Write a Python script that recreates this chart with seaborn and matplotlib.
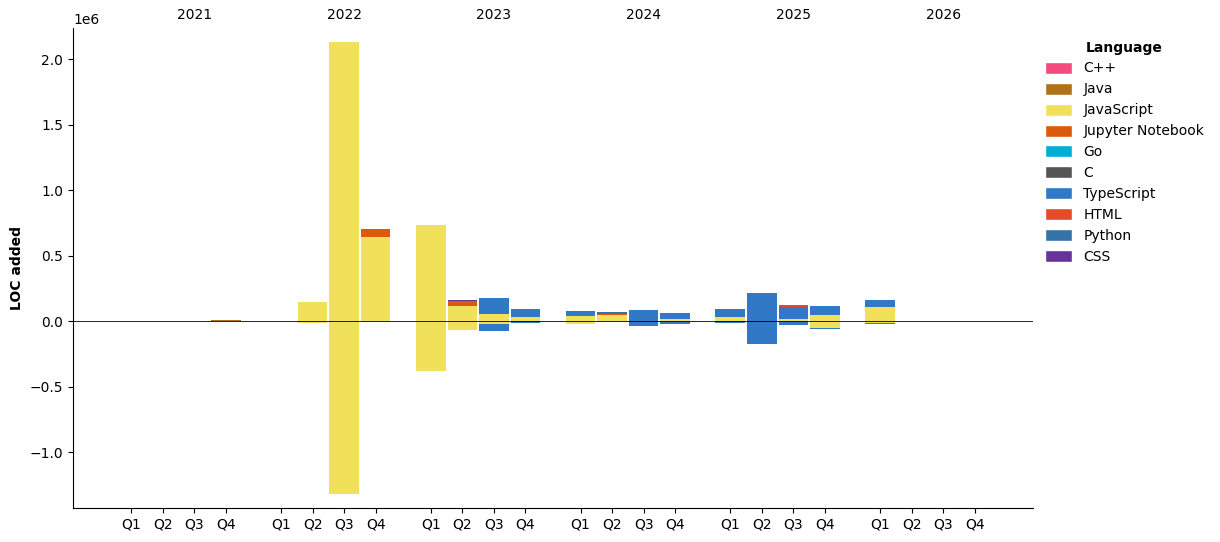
import numpy as np
import pandas as pd
import matplotlib
matplotlib.use("Agg")
import matplotlib.pyplot as plt
import matplotlib.transforms as mtransforms
from matplotlib.patches import Patch
import seaborn as sns

# ---- data (LOC) ----
years = [2021, 2022, 2023, 2024, 2025, 2026]
quarters = ["Q1", "Q2", "Q3", "Q4"]
languages = ["C++", "Java", "JavaScript", "Jupyter Notebook", "Go", "C",
             "TypeScript", "HTML", "Python", "CSS"]
lang_colors = ["#f34b7d", "#b07219", "#f1e05a", "#da5b0b", "#00add8", "#555555",
               "#3178c6", "#e34c26", "#3572a5", "#663399"]

# one value per quarter, 2021 Q1 ... 2026 Q4
java_added = [0, 0, 0, 12000] + [0] * 20
js_added = [0, 0, 0, 0,
            0, 145000, 2130000, 640000,
            735000, 115000, 55000, 30000,
            40000, 45000, 0, 15000,
            30000, 0, 15000, 45000,
            105000, 0, 0, 0]
js_removed = [0, 0, 0, 0,
              0, -12000, -1320000, 0,
              -380000, -67000, -22000, 0,
              -22000, 0, 0, 0,
              0, 0, 0, -50000,
              -18000, 0, 0, 0]
jupyter_added = [0, 0, 0, 0,
                 0, 0, 0, 60000,
                 0, 35000, 0, 0,
                 0, 7000, 0, 0,
                 0, 0, 0, 0,
                 0, 0, 0, 0]
ts_added = [0, 0, 0, 0,
            0, 0, 0, 0,
            0, 0, 120000, 60000,
            40000, 0, 85000, 45000,
            60000, 215000, 95000, 70000,
            55000, 0, 0, 0]
ts_removed = [0, 0, 0, 0,
              0, 0, 0, 0,
              0, 0, -55000, -15000,
              0, 0, -35000, -20000,
              -18000, -175000, -27000, -8000,
              -8000, 0, 0, 0]
html_added = [0] * 18 + [10000] + [0] * 5
python_added = [0] * 13 + [20000] + [0] * 10
css_added = [0] * 9 + [9000] + [0] * 14

zeros = [0] * 24
added = {"C++": zeros, "Java": java_added, "JavaScript": js_added,
         "Jupyter Notebook": jupyter_added, "Go": zeros, "C": zeros,
         "TypeScript": ts_added, "HTML": html_added, "Python": python_added,
         "CSS": css_added}
removed = {"JavaScript": js_removed, "TypeScript": ts_removed}

# ---- build long table ----
rows = []
for yi, yr in enumerate(years):
    for qi, q in enumerate(quarters):
        k = yi * 4 + qi
        for lang in languages:
            rows.append({"year": yr, "quarter": q, "pos": yi * 4.75 + qi,
                         "language": lang, "added": added[lang][k],
                         "removed": removed.get(lang, zeros)[k]})
df = pd.DataFrame(rows)

sns.set_style("ticks", rc={"text.color": "black", "axes.labelcolor": "black",
                           "xtick.color": "black", "ytick.color": "black",
                           "axes.edgecolor": "black"})
palette = dict(zip(languages, lang_colors))

fig = plt.figure(figsize=(12.2, 5.42), dpi=100)
ax = fig.add_axes([0.0598, 0.0627, 0.7869, 0.8856])

width = 0.94
pos_bottom = np.zeros(24)
neg_bottom = np.zeros(24)
for lang in languages:
    sub = df[df["language"] == lang]
    x = sub["pos"].values
    a = sub["added"].values.astype(float)
    r = sub["removed"].values.astype(float)
    ax.bar(x, a, width=width, bottom=pos_bottom, color=palette[lang], linewidth=0)
    ax.bar(x, r, width=width, bottom=neg_bottom, color=palette[lang], linewidth=0)
    pos_bottom += a
    neg_bottom += r

ax.axhline(0, color="black", linewidth=0.6)

xpos = df.drop_duplicates("pos")["pos"].values
ax.set_xticks(xpos)
ax.set_xticklabels(quarters * len(years))
ax.set_xlim(-1.85, 28.6)
ax.set_ylim(-1.427e6, 2.237e6)
ax.set_xlabel("")
ax.set_ylabel("LOC added", fontweight="bold")

trans = mtransforms.blended_transform_factory(ax.transData, ax.transAxes)
for yi, yr in enumerate(years):
    ax.text(yi * 4.75 + 2, 1.013, str(yr), transform=trans,
            ha="center", va="bottom", fontsize=10)

sns.despine(ax=ax)

handles = [Patch(facecolor=palette[l], label=l) for l in languages]
leg = ax.legend(handles=handles, title="Language", loc="upper left",
                bbox_to_anchor=(0.999, 1.0), frameon=False, fontsize=10,
                handleheight=0.95, labelspacing=0.5)
leg.get_title().set_fontweight("bold")

fig.savefig("out.png", dpi=100)
